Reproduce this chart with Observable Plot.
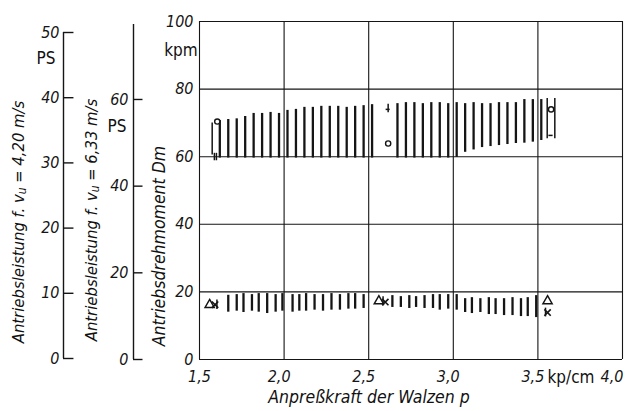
<!DOCTYPE html>
<html>
<head>
<meta charset="utf-8">
<script src="https://cdn.jsdelivr.net/npm/d3@7"></script>
<script src="https://cdn.jsdelivr.net/npm/@observablehq/plot@0.6"></script>
<style>
  html, body { margin: 0; padding: 0; background: #fff; }
  #wrap { position: relative; width: 627px; height: 411px; overflow: hidden; background: #fff; }
  #wrap svg { position: absolute; left: 0; top: 0; }
  .lbl { position: absolute; white-space: nowrap; color: #111;
         font-family: 'DejaVu Sans Condensed', 'DejaVu Sans', sans-serif; line-height: 1; }
  .it { font-style: italic; }
  .rot { transform: translate(-50%, -50%) rotate(-90deg); }
  .ctr { transform: translate(-50%, -50%); }
  sub { font-size: 0.72em; vertical-align: -0.2em; line-height: 0; }
</style>
</head>
<body>
<div id="wrap"></div>
<script>
// ---------- data ----------
const xTicks = [1.5, 2.0, 2.5, 3.0, 3.5, 4.0];
const xTickLabels = ["1,5", "2,0", "2,5", "3,0", "3,5", "4,0"];
const yTicks = [0, 20, 40, 60, 80, 100];
const ps1Ticks = [0, 10, 20, 30, 40, 50];     // PS at vu = 4,20 m/s
const ps2Ticks = [0, 20, 40, 60];             // PS at vu = 6,33 m/s
const ps2AxisTop = 77.3;                      // upper end of the 6,33 m/s axis line

// upper hatched band, kpm
const upperX = [1.62,1.67,1.72,1.77,1.82,1.87,1.92,1.97,2.02,2.07,2.12,2.17,2.22,2.27,2.32,2.37,2.42,2.47,2.52,
                2.67,2.72,2.77,2.82,2.87,2.92,2.97,3.02,3.07,3.12,3.17,3.22,3.27,3.32,3.37,3.42,3.47,3.52];
const upperTop = [70.7,71.0,71.2,71.9,72.8,72.8,73.1,72.8,73.7,74.0,74.6,74.6,74.9,74.9,74.9,74.6,74.9,75.1,75.4,
                  75.7,76.0,76.0,75.7,76.0,76.0,75.7,76.0,75.7,76.0,75.7,75.7,76.0,76.0,76.0,76.9,76.9,76.9];
const upperBot = [59.6,59.6,59.6,59.6,59.6,59.6,59.6,59.6,59.6,59.6,59.6,59.6,59.6,59.6,59.6,59.6,59.6,59.6,59.6,
                  59.6,59.6,59.6,59.6,59.6,59.6,59.6,59.8,61.3,62.0,62.7,63.0,63.3,63.6,63.9,64.0,64.3,64.8];

// lower hatched band, kpm
const lowerX = [1.67,1.72,1.76,1.81,1.85,1.90,1.95,1.99,2.05,2.09,2.13,2.18,2.23,2.28,2.33,2.38,2.42,2.47,
                2.64,2.69,2.74,2.78,2.83,2.88,2.92,2.97,3.02,
                3.07,3.11,3.16,3.21,3.25,3.30,3.35,3.40,3.44,3.49];
const lowerTop = [19.0,19.2,19.5,19.2,19.5,19.5,19.2,19.5,19.2,19.2,19.5,19.2,19.2,19.5,19.2,19.5,19.5,19.2,
                  18.9,18.6,18.9,18.6,18.9,19.2,19.2,19.2,19.2,
                  18.0,18.3,18.0,18.3,18.0,18.0,18.3,18.0,18.3,18.9];
const lowerBot = [14.0,14.3,13.9,14.3,14.0,13.6,14.0,14.3,14.0,14.3,14.3,14.6,14.3,14.6,14.6,14.9,14.9,15.1,
                  15.4,15.4,15.1,15.4,15.1,15.1,14.6,14.9,14.6,
                  13.9,13.6,13.9,13.3,13.3,13.0,13.0,12.7,12.7,12.4];

// measured points / scatter marks
const segX  = [1.575, 1.588, 1.600, 2.615, 3.555, 3.600, 1.603, 2.585, 3.545];
const segLo = [60.5, 58.8, 58.8, 73.0, 65.3, 65.3, 14.8, 15.8, 12.6];
const segHi = [70.0, 61.0, 61.0, 75.5, 77.2, 77.2, 17.6, 18.6, 15.2];
const barY  = [74.0, 66.3];
const barX1 = [2.603, 3.565];
const barX2 = [2.627, 3.590];
const circX = [1.605, 2.615, 3.578];
const circY = [70.4, 63.9, 74.0];
const triX  = [1.560, 2.560, 3.557];
const triY  = [16.2, 17.3, 17.3];
const kX    = [1.592, 2.598, 3.557];
const kY    = [16.2, 17.0, 13.9];

// ---------- tables built from the arrays ----------
const upper = upperX.map((x, i) => ({x, y1: upperBot[i], y2: upperTop[i]}));
const lower = lowerX.map((x, i) => ({x, y1: lowerBot[i], y2: lowerTop[i]}));
const segs  = segX.map((x, i) => ({x, y1: segLo[i], y2: segHi[i]}));
const bars  = barY.map((y, i) => ({y, x1: barX1[i], x2: barX2[i]}));
const circs = circX.map((x, i) => ({x, y: circY[i]}));
const tris  = triX.map((x, i) => ({x, y: triY[i]}));
const ks    = kX.map((x, i) => ({x, y: kY[i]}));

const FONT = "'DejaVu Sans Condensed','DejaVu Sans',sans-serif";
const INK = "#151515";
const baseStyle = {background: "transparent", fontFamily: FONT, fontSize: "15px", color: INK, overflow: "visible"};
const tickText = {fontSize: 16, fontFamily: FONT};

const wrap = document.getElementById("wrap");

function italicize(svg) {
  d3.select(svg).selectAll("text, tspan")
    .style("font-style", "italic")
    .style("font-family", FONT);
  return svg;
}

// ---------- main chart ----------
const main = Plot.plot({
  width: 627, height: 411,
  marginLeft: 199, marginRight: 5, marginTop: 21, marginBottom: 52,
  x: {domain: [1.5, 4.0], axis: null},
  y: {domain: [0, 100], axis: null},
  style: baseStyle,
  marks: [
    Plot.ruleX(xTicks, {stroke: INK, strokeWidth: 1.1}),
    Plot.ruleY(yTicks, {stroke: INK, strokeWidth: 1.1}),
    Plot.ruleX(upper, {x: "x", y1: "y1", y2: "y2", stroke: INK, strokeWidth: 2.3}),
    Plot.ruleX(lower, {x: "x", y1: "y1", y2: "y2", stroke: INK, strokeWidth: 2.3}),
    Plot.ruleX(segs, {x: "x", y1: "y1", y2: "y2", stroke: INK, strokeWidth: 1.5}),
    Plot.ruleY(bars, {y: "y", x1: "x1", x2: "x2", stroke: INK, strokeWidth: 1.5}),
    Plot.dot(circs, {x: "x", y: "y", r: 2.6, fill: "white", stroke: INK, strokeWidth: 1.4}),
    Plot.dot(tris, {x: "x", y: "y", r: 3.4, symbol: "triangle", fill: "none", stroke: INK, strokeWidth: 1.5}),
    Plot.dot(ks, {x: "x", y: "y", r: 3.0, symbol: "times", stroke: INK, strokeWidth: 1.6}),
    Plot.axisY(yTicks, {anchor: "left", tickSize: 0, tickPadding: 6, ...tickText, tickFormat: d => String(d)}),
    Plot.axisX(xTicks.slice(0, 1), {anchor: "bottom", tickSize: 0, tickPadding: 11, ...tickText, dx: 0,
      tickFormat: d => xTickLabels[xTicks.indexOf(d)]}),
    Plot.axisX(xTicks.slice(1, 5), {anchor: "bottom", tickSize: 0, tickPadding: 11, ...tickText, dx: -5,
      tickFormat: d => xTickLabels[xTicks.indexOf(d)]}),
    Plot.axisX(xTicks.slice(5), {anchor: "bottom", tickSize: 0, tickPadding: 11, ...tickText, dx: 1, textAnchor: "end",
      tickFormat: d => xTickLabels[xTicks.indexOf(d)]})
  ]
});
wrap.appendChild(italicize(main));

// ---------- secondary axis: PS at vu = 4,20 m/s ----------
const ax1 = Plot.plot({
  width: 82, height: 411,
  marginLeft: 63, marginRight: 0, marginTop: 32, marginBottom: 53,
  x: {domain: [0, 1], axis: null},
  y: {domain: [0, 50], axis: null},
  style: baseStyle,
  marks: [
    Plot.ruleX([0], {y1: () => ps1Ticks[0], y2: () => ps1Ticks[ps1Ticks.length - 1], stroke: INK, strokeWidth: 1.4}),
    Plot.ruleY(ps1Ticks, {x1: () => 0, x2: () => 0.55, stroke: INK, strokeWidth: 1.4}),
    Plot.axisY(ps1Ticks, {anchor: "left", tickSize: 0, tickPadding: 4, ...tickText, tickFormat: d => String(d)})
  ]
});
wrap.appendChild(italicize(ax1));

// ---------- secondary axis: PS at vu = 6,33 m/s ----------
const ax2 = Plot.plot({
  width: 152, height: 411,
  marginLeft: 133, marginRight: 0, marginTop: 24, marginBottom: 52,
  x: {domain: [0, 1], axis: null},
  y: {domain: [0, ps2AxisTop], axis: null},
  style: baseStyle,
  marks: [
    Plot.ruleX([0], {y1: () => ps2Ticks[0], y2: () => ps2AxisTop, stroke: INK, strokeWidth: 1.4}),
    Plot.ruleY(ps2Ticks, {x1: () => 0, x2: () => 0.5, stroke: INK, strokeWidth: 1.4}),
    Plot.axisY(ps2Ticks, {anchor: "left", tickSize: 0, tickPadding: 5, ...tickText, tickFormat: d => String(d)})
  ]
});
wrap.appendChild(italicize(ax2));

// ---------- text labels ----------
function label(html, x, y, cls, size) {
  const d = document.createElement("div");
  d.className = "lbl " + cls;
  d.style.left = x + "px";
  d.style.top = y + "px";
  d.style.fontSize = size + "px";
  d.innerHTML = html;
  wrap.appendChild(d);
}
label("Antriebsleistung f. v<sub>u</sub> = 4,20 m/s", 19, 222, "it rot", 16.5);
label("Antriebsleistung f. v<sub>u</sub> = 6,33 m/s", 92, 220, "it rot", 16.5);
label("Antriebsdrehmoment Dm", 160, 246, "it rot", 17.5);
label("PS", 46, 58, "ctr", 17);
label("PS", 117, 126, "ctr", 17);
label("kpm", 181, 50, "ctr", 17);
label("kp/cm", 571, 377, "ctr", 17);
label("Anpreßkraft der Walzen p", 369, 398, "it ctr", 17.5);
</script>
</body>
</html>
